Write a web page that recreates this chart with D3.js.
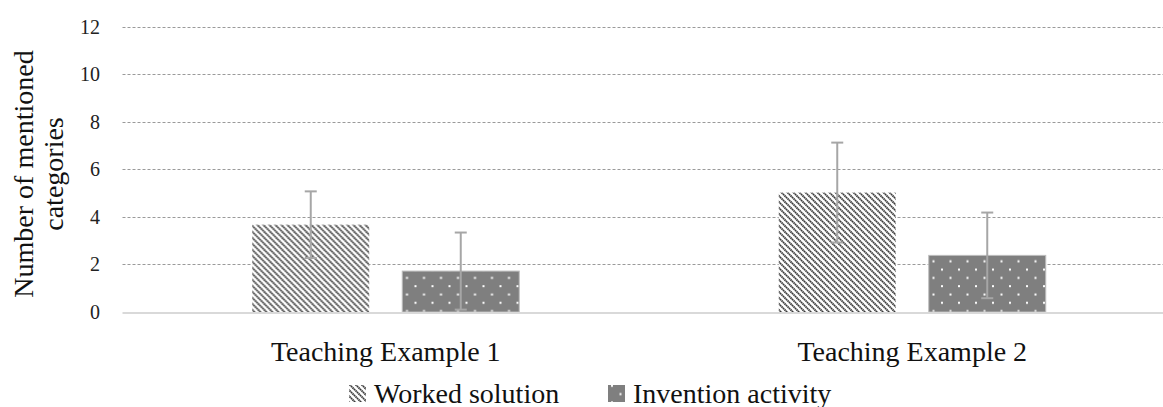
<!DOCTYPE html>
<html><head><meta charset="utf-8">
<script src="https://cdn.jsdelivr.net/npm/d3@7"></script>
<style>
html,body{margin:0;padding:0;background:#fff;}
svg{display:block;font-family:"Liberation Serif","Times New Roman",serif;}
</style></head>
<body>
<svg id="chart" width="1163" height="407"></svg>
<script>
const categories = ["Teaching Example 1", "Teaching Example 2"];
const seriesNames = ["Worked solution", "Invention activity"];
const workedMeans = [3.67, 5.02];
const workedErrors = [1.40, 2.10];
const inventionMeans = [1.72, 2.38];
const inventionErrors = [1.62, 1.80];
const yTicks = [0, 2, 4, 6, 8, 10, 12];
const yLabelLines = ["Number of mentioned", "categories"];

const svg = d3.select("#chart");
const defs = svg.append("defs");

// hatch pattern (downward diagonal)
const hatch = defs.append("pattern").attr("id", "hatch")
  .attr("patternUnits", "userSpaceOnUse").attr("width", 6).attr("height", 6);
hatch.append("rect").attr("width", 6).attr("height", 6).attr("fill", "#fff");
hatch.append("path").attr("d", "M-1,-1 L7,7 M-1,5 L1,7 M5,-1 L7,1")
  .attr("stroke", "#3a3a3a").attr("stroke-width", 1.9).attr("stroke-dasharray", "1.6,0.5");

// dotted pattern
const dots = defs.append("pattern").attr("id", "dots")
  .attr("patternUnits", "userSpaceOnUse").attr("width", 17).attr("height", 16.6);
dots.append("rect").attr("width", 17).attr("height", 16.6).attr("fill", "#7f7f7f");
dots.append("rect").attr("x", 3).attr("y", 3).attr("width", 2).attr("height", 2).attr("fill", "#fff");
dots.append("rect").attr("x", 11.5).attr("y", 11.3).attr("width", 2).attr("height", 2).attr("fill", "#fff");

const y = d3.scaleLinear().domain([0, 12]).range([312, 26.5]);
const x0 = d3.scaleBand().domain(categories).range([122.5, 1175.5]).paddingInner(0).paddingOuter(0);
const x1 = d3.scaleBand().domain(seriesNames).range([0, x0.bandwidth()]).paddingInner(0.22).paddingOuter(0.865);

// gridlines
svg.append("g").selectAll("line").data(yTicks.filter(d => d > 0)).join("line")
  .attr("x1", 122.5).attr("x2", 1163)
  .attr("y1", d => Math.round(y(d)) + 0.5).attr("y2", d => Math.round(y(d)) + 0.5)
  .attr("stroke", "#9a9a9a").attr("stroke-width", 1).attr("stroke-dasharray", "3,2");

// y tick labels
svg.append("g").selectAll("text").data(yTicks).join("text")
  .attr("x", 100).attr("y", d => y(d)).attr("dy", "0.35em")
  .attr("text-anchor", "end").attr("font-size", 20).attr("fill", "#222")
  .text(d => d);

const data = categories.map((c, i) => ({
  cat: c,
  vals: [
    {s: seriesNames[0], v: workedMeans[i], e: workedErrors[i]},
    {s: seriesNames[1], v: inventionMeans[i], e: inventionErrors[i]}
  ]
}));

const fills = {"Worked solution": "url(#hatch)", "Invention activity": "url(#dots)"};

const groups = svg.append("g").selectAll("g").data(data).join("g")
  .attr("transform", d => `translate(${x0(d.cat)},0)`);

groups.selectAll("rect").data(d => d.vals).join("rect")
  .attr("x", d => x1(d.s)).attr("width", x1.bandwidth())
  .attr("y", d => y(d.v)).attr("height", d => y(0) - y(d.v))
  .attr("fill", d => fills[d.s])
  .attr("stroke", d => d.s === "Invention activity" ? "#bdbdbd" : "none")
  .attr("stroke-width", 1);

// baseline
svg.append("line").attr("x1", 122.5).attr("x2", 1163)
  .attr("y1", y(0) + 1).attr("y2", y(0) + 1)
  .attr("stroke", "#d9d9d9").attr("stroke-width", 2);

// error bars
const eb = groups.selectAll("g.eb").data(d => d.vals).join("g").attr("class", "eb")
  .attr("stroke", "#a6a6a6").attr("stroke-width", 2);
eb.append("line")
  .attr("x1", d => x1(d.s) + x1.bandwidth() / 2).attr("x2", d => x1(d.s) + x1.bandwidth() / 2)
  .attr("y1", d => y(d.v + d.e)).attr("y2", d => y(d.v - d.e));
eb.append("line")
  .attr("x1", d => x1(d.s) + x1.bandwidth() / 2 - 6).attr("x2", d => x1(d.s) + x1.bandwidth() / 2 + 6)
  .attr("y1", d => y(d.v + d.e)).attr("y2", d => y(d.v + d.e));
eb.append("line")
  .attr("x1", d => x1(d.s) + x1.bandwidth() / 2 - 6).attr("x2", d => x1(d.s) + x1.bandwidth() / 2 + 6)
  .attr("y1", d => y(d.v - d.e)).attr("y2", d => y(d.v - d.e));

// x category labels
svg.append("g").selectAll("text").data(categories).join("text")
  .attr("x", d => x0(d) + x0.bandwidth() / 2).attr("y", 360.5)
  .attr("text-anchor", "middle").attr("font-size", 28).attr("fill", "#111")
  .text(d => d);

// y axis title
const yt = svg.append("text").attr("transform", "translate(0,174) rotate(-90)")
  .attr("text-anchor", "middle").attr("font-size", 28).attr("fill", "#111");
yt.selectAll("tspan").data(yLabelLines).join("tspan")
  .attr("x", 0).attr("y", (d, i) => 33 + i * 30).text(d => d);

// legend
const legendX = [349, 608];
const lg = svg.append("g").selectAll("g").data(seriesNames).join("g")
  .attr("transform", (d, i) => `translate(${legendX[i]},0)`);
lg.append("rect").attr("x", 0).attr("y", 385).attr("width", 17).attr("height", 17)
  .attr("fill", d => fills[d]);
lg.append("text").attr("x", 25).attr("y", 402.5).attr("font-size", 28).attr("fill", "#111")
  .text(d => d);
</script>
</body></html>
